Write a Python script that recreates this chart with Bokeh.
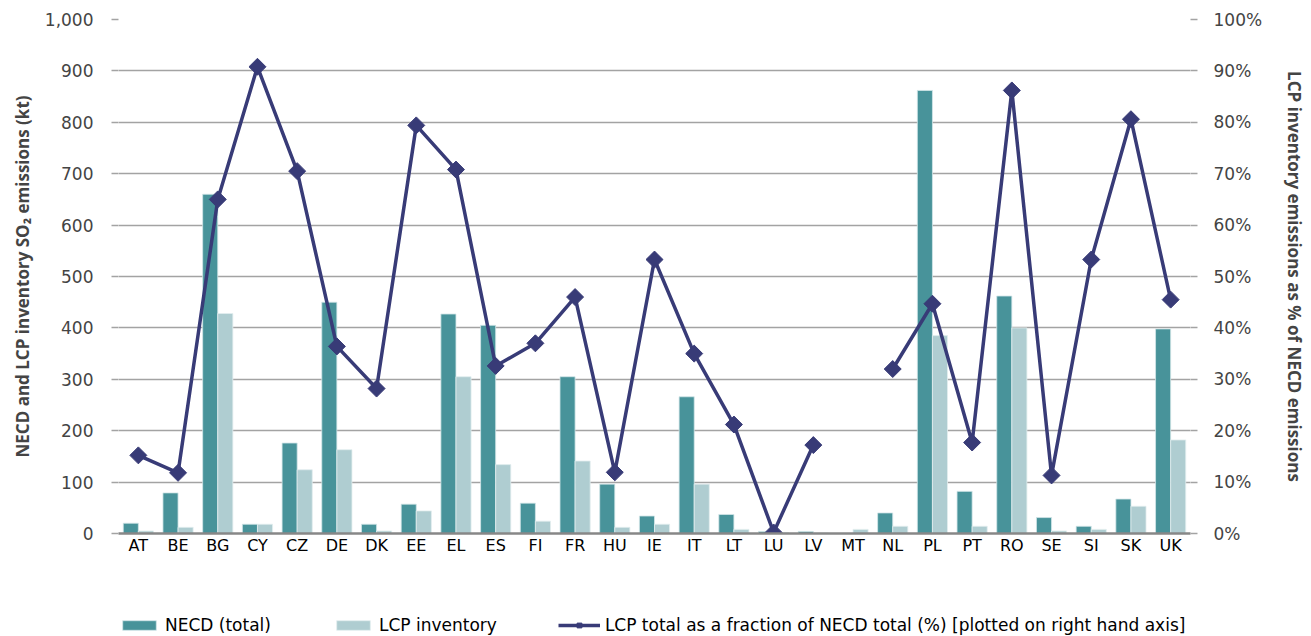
import math
from bokeh.plotting import figure
from bokeh.layouts import column
from bokeh.models import (ColumnDataSource, FactorRange, Range1d, LinearAxis,
                          NumeralTickFormatter, Legend, LegendItem, FixedTicker)
from bokeh.transform import dodge
from bokeh.embed import file_html
from bokeh.resources import INLINE

countries = ["AT", "BE", "BG", "CY", "CZ", "DE", "DK", "EE", "EL", "ES", "FI", "FR", "HU", "IE",
             "IT", "LT", "LU", "LV", "MT", "NL", "PL", "PT", "RO", "SE", "SI", "SK", "UK"]
necd_total = [20, 79, 660, 18, 176, 450, 18, 57, 427, 405, 59, 305, 96, 34,
              266, 37, 4, 4, 0, 40, 862, 82, 462, 31, 14, 67, 398]
lcp_inventory = [5, 12, 428, 18, 124, 163, 5, 44, 305, 134, 24, 141, 12, 18,
                 96, 8, 2, 1, 8, 14, 385, 14, 400, 5, 8, 53, 182]
lcp_fraction = [0.152, 0.118, 0.650, 0.908, 0.705, 0.364, 0.282, 0.794, 0.708, 0.326, 0.370, 0.460,
                0.119, 0.533, 0.350, 0.212, 0.002, 0.172, float("nan"), 0.320, 0.447, 0.177, 0.862,
                0.113, 0.533, 0.806, 0.455]
left_ticks = [0, 100, 200, 300, 400, 500, 600, 700, 800, 900, 1000]
right_ticks = [0, 0.1, 0.2, 0.3, 0.4, 0.5, 0.6, 0.7, 0.8, 0.9, 1.0]
legend_labels = ["NECD (total)", "LCP inventory",
                 "LCP total as a fraction of NECD total (%) [plotted on right hand axis]"]

TEAL = "#48939A"
LIGHT = "#AFCDD1"
NAVY = "#383B77"
GRID = "#A3A3A3"
TICKFONT = "DejaVu Sans"
TITLEFONT = "Open Sans"

src = ColumnDataSource(dict(country=countries, necd=necd_total, lcp=lcp_inventory, frac=lcp_fraction))

MAIN_H = 572
p = figure(width=1311, height=MAIN_H, x_range=FactorRange(*countries, range_padding=0),
           y_range=Range1d(0, 1000), output_backend="svg", toolbar_location=None,
           min_border_left=118, min_border_right=121, min_border_top=19,
           min_border_bottom=MAIN_H - 533)
p.extra_y_ranges = {"pct": Range1d(0, 1)}
p.outline_line_color = None

bar1 = dict(fill_color=TEAL, line_color="#D3E6E8", line_width=0.8)
bar2 = dict(fill_color=LIGHT, line_color="#E2EEEF", line_width=0.8)
line_style = dict(line_color=NAVY, line_width=3.5)
mark_style = dict(marker="square", angle=math.pi / 4, size=12, fill_color=NAVY, line_color=NAVY)


def draw(fig, visible=True):
    r1 = fig.vbar(x=dodge("country", -0.19, range=p.x_range), top="necd", width=0.38,
                  source=src, visible=visible, **bar1)
    r2 = fig.vbar(x=dodge("country", 0.19, range=p.x_range), top="lcp", width=0.38,
                  source=src, visible=visible, **bar2)
    r3 = fig.line(x="country", y="frac", source=src, y_range_name="pct", visible=visible,
                  **line_style)
    r4 = fig.scatter(x="country", y="frac", source=src, y_range_name="pct", visible=visible,
                     **mark_style)
    return r1, r2, r3, r4


draw(p)

# x axis
xa = p.xaxis[0]
xa.axis_line_color = "#878787"
xa.axis_line_width = 2.5
xa.major_tick_line_color = None
xa.major_tick_out = 0
xa.major_tick_in = 0
xa.minor_tick_line_color = None
xa.major_label_text_font = TICKFONT
xa.major_label_text_font_size = "16px"
xa.major_label_text_color = "#000000"
xa.major_label_standoff = 2

ly = p.yaxis[0]
ly.ticker = FixedTicker(ticks=left_ticks)
ly.formatter = NumeralTickFormatter(format="0,0")
ly.axis_line_color = None
ly.major_tick_in = 0
ly.major_tick_out = 7
ly.major_tick_line_color = GRID
ly.major_tick_line_width = 1.5
ly.minor_tick_line_color = None
ly.major_label_text_font = TICKFONT
ly.major_label_text_font_size = "17px"
ly.major_label_standoff = 18
ly.axis_label = "NECD and LCP inventory SO₂ emissions (kt)"
ly.axis_label_text_font = TITLEFONT
ly.axis_label_text_font_style = "bold"
ly.axis_label_text_font_size = "17px"
ly.axis_label_standoff = 8

ry = LinearAxis(y_range_name="pct", ticker=FixedTicker(ticks=right_ticks),
                formatter=NumeralTickFormatter(format="0%"))
ry.axis_line_color = None
ry.major_tick_in = 0
ry.major_tick_out = 7
ry.major_tick_line_color = GRID
ry.major_tick_line_width = 1.5
ry.minor_tick_line_color = None
ry.major_label_text_font = TICKFONT
ry.major_label_text_font_size = "17px"
ry.major_label_standoff = 16
ry.axis_label = "LCP inventory emissions as % of NECD emissions"
ry.axis_label_text_font = TITLEFONT
ry.axis_label_text_font_style = "bold"
ry.axis_label_text_font_size = "17px"
ry.axis_label_standoff = 18
p.add_layout(ry, "right")

p.xgrid.grid_line_color = None
p.ygrid.ticker = FixedTicker(ticks=left_ticks)
p.ygrid.grid_line_color = GRID
p.ygrid.grid_line_width = 1.5

# legend strip below the chart (hidden copies of the series supply the legend keys)
LEG_H = 636 - MAIN_H
lg = figure(width=1311, height=LEG_H, x_range=p.x_range, y_range=p.y_range,
            output_backend="svg", toolbar_location=None, x_axis_location=None,
            y_axis_location=None, min_border_left=0, min_border_right=0,
            min_border_top=0, min_border_bottom=0)
lg.extra_y_ranges = {"pct": Range1d(0, 1)}
lg.outline_line_color = None
lg.xgrid.grid_line_color = None
lg.ygrid.grid_line_color = None
k1, k2, k3, k4 = draw(lg, visible=False)

legend = Legend(items=[LegendItem(label=legend_labels[0], renderers=[k1]),
                       LegendItem(label=legend_labels[1], renderers=[k2]),
                       LegendItem(label=legend_labels[2], renderers=[k3, k4])],
                location=(0, 1), orientation="horizontal",
                glyph_width=42, glyph_height=12, label_height=20, label_standoff=5,
                padding=0, margin=0, spacing=61, border_line_color=None,
                background_fill_alpha=0, inactive_fill_alpha=0,
                label_text_font=TICKFONT, label_text_font_size="17px",
                label_text_color="#000000", click_policy="none")
lg.add_layout(legend, "center")

open("out.html", "w").write(file_html(column(p, lg), INLINE))
